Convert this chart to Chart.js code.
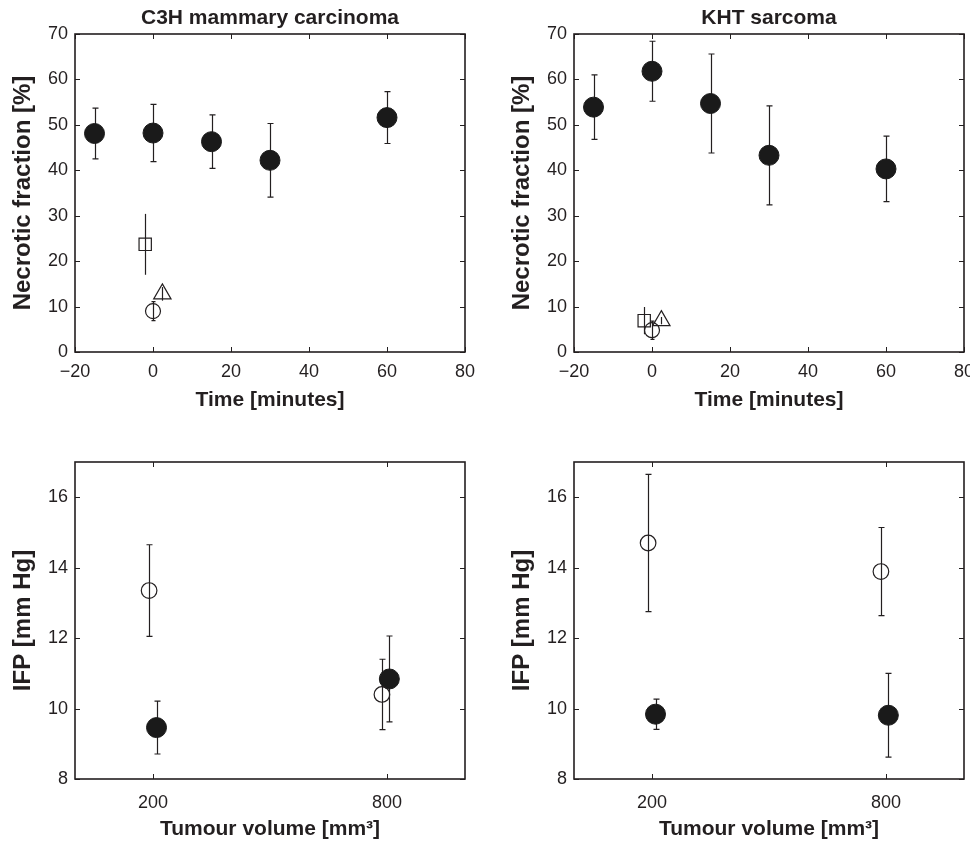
<!DOCTYPE html>
<html>
<head>
<meta charset="utf-8">
<title>Necrotic fraction and IFP</title>
<script src="https://cdn.jsdelivr.net/npm/chart.js@4.4.1/dist/chart.umd.min.js"></script>
<style>
  html, body { margin: 0; padding: 0; background: #fff; overflow: hidden; }
  body { width: 970px; height: 845px; position: relative; }
  canvas { position: absolute; }
</style>
</head>
<body>
<canvas id="chartC3HNecrosis" width="500" height="420" style="left:0px;top:0px"></canvas>
<canvas id="chartKHTNecrosis" width="500" height="420" style="left:485px;top:0px"></canvas>
<canvas id="chartC3HIfp" width="500" height="425" style="left:0px;top:420px"></canvas>
<canvas id="chartKHTIfp" width="500" height="425" style="left:485px;top:420px"></canvas>
<script>
// --- top row: necrotic fraction vs time ---
const timePoints = [-15, 0, 15, 30, 60];
const timeTicks = [-20, 0, 20, 40, 60, 80];
const necrosisTicks = [0, 10, 20, 30, 40, 50, 60, 70];

const c3hNecrosis = [48.1, 48.2, 46.3, 42.2, 51.6];
const c3hNecrosisErr = [5.6, 6.3, 5.9, 8.1, 5.7];
const khtNecrosis = [53.9, 61.8, 54.7, 43.3, 40.3];
const khtNecrosisErr = [7.1, 6.6, 10.9, 10.9, 7.2];

// reference groups near t = 0 (square, circle, triangle)
const refTimes = [-2, 0, 2.4];
const c3hRef = [23.7, 9.0, 12.8];
const c3hRefErr = [6.7, 2.1, 1.5];
const khtRef = [6.9, 4.8, 6.9];
const khtRefErr = [3.0, 2.0, 0.8];

// --- bottom row: IFP vs tumour volume ---
const volumeTicks = [200, 800];
const ifpTicks = [8, 10, 12, 14, 16];
const volumeOpen = [190, 787];
const volumeFilled = [209, 806];

const c3hIfpOpen = [13.35, 10.40];
const c3hIfpOpenErr = [1.3, 1.0];
const c3hIfpFilled = [9.46, 10.84];
const c3hIfpFilledErr = [0.75, 1.22];
const khtIfpOpen = [14.70, 13.89];
const khtIfpOpenErr = [1.95, 1.25];
const khtIfpFilled = [9.84, 9.81];
const khtIfpFilledErr = [0.43, 1.19];

const ink = '#231f20';
const family = "'Liberation Sans', Arial, Helvetica, sans-serif";
Chart.defaults.font.family = family;
Chart.defaults.color = ink;

function points(xs, ys) {
    return xs.map((x, i) => ({ x: x, y: ys[i] }));
}

function filledSet(xs, ys, errs) {
    return {
        data: points(xs, ys),
        errors: errs,
        capWidth: 3,
        pointStyle: 'circle',
        pointRadius: 10,
        pointBackgroundColor: '#1a1a1a',
        pointBorderColor: '#1a1a1a',
        pointBorderWidth: 1
    };
}

function openSet(x, y, err, style, radius, cap) {
    return {
        data: [{ x: x, y: y }],
        errors: [err],
        capWidth: cap,
        pointStyle: style,
        pointRadius: radius,
        pointBackgroundColor: 'rgba(0,0,0,0)',
        pointBorderColor: ink,
        pointBorderWidth: 1.2
    };
}

// error bars under the markers, MATLAB style box with inward ticks on top
const matlabAxes = {
    id: 'matlabAxes',
    beforeDatasetsDraw(chart) {
        const ctx = chart.ctx;
        const xs = chart.scales.x;
        const ys = chart.scales.y;
        ctx.save();
        ctx.strokeStyle = ink;
        ctx.lineWidth = 1.2;
        chart.data.datasets.forEach(ds => {
            const cap = ds.capWidth || 0;
            ds.data.forEach((p, i) => {
                const e = ds.errors[i];
                const x = Math.round(xs.getPixelForValue(p.x)) + 0.5;
                const y1 = ys.getPixelForValue(p.y + e);
                const y2 = ys.getPixelForValue(p.y - e);
                ctx.beginPath();
                ctx.moveTo(x, y1);
                ctx.lineTo(x, y2);
                if (cap) {
                    ctx.moveTo(x - cap, y1); ctx.lineTo(x + cap, y1);
                    ctx.moveTo(x - cap, y2); ctx.lineTo(x + cap, y2);
                }
                ctx.stroke();
            });
        });
        ctx.restore();
    },
    afterDatasetsDraw(chart) {
        const ctx = chart.ctx;
        const a = chart.chartArea;
        const tick = 5;
        ctx.save();
        ctx.strokeStyle = ink;
        ctx.lineWidth = 1;
        ctx.beginPath();
        chart.scales.x.ticks.forEach(t => {
            const x = Math.round(chart.scales.x.getPixelForValue(t.value)) + 0.5;
            ctx.moveTo(x, a.bottom); ctx.lineTo(x, a.bottom - tick);
            ctx.moveTo(x, a.top); ctx.lineTo(x, a.top + tick);
        });
        chart.scales.y.ticks.forEach(t => {
            const y = Math.round(chart.scales.y.getPixelForValue(t.value)) + 0.5;
            ctx.moveTo(a.left, y); ctx.lineTo(a.left + tick, y);
            ctx.moveTo(a.right, y); ctx.lineTo(a.right - tick, y);
        });
        ctx.stroke();
        ctx.lineWidth = 1.6;
        ctx.strokeRect(a.left, a.top, a.right - a.left, a.bottom - a.top);
        ctx.restore();
    }
};

function makePanel(id, p) {
    return new Chart(document.getElementById(id), {
        type: 'scatter',
        data: { datasets: p.datasets },
        options: {
            responsive: false,
            animation: false,
            events: [],
            layout: { padding: { left: p.padLeft, right: p.padRight, top: p.padTop, bottom: 0 } },
            plugins: {
                legend: { display: false },
                tooltip: { enabled: false },
                title: {
                    display: !!p.title,
                    text: p.title || '',
                    fullSize: false,
                    color: ink,
                    font: { size: 21, weight: 'bold' },
                    padding: { top: 5.7, bottom: 3.1 }
                }
            },
            scales: {
                x: {
                    type: 'linear',
                    min: p.xMin,
                    max: p.xMax,
                    grid: { display: false, drawTicks: false },
                    border: { display: false },
                    afterBuildTicks: s => { s.ticks = p.xTicks.map(v => ({ value: v })); },
                    afterFit: s => { s.height = p.xHeight; },
                    ticks: {
                        padding: p.xTickPad,
                        autoSkip: false,
                        maxRotation: 0,
                        font: { size: 18 },
                        callback: v => String(v).replace('-', '\u2212')
                    },
                    title: {
                        display: true,
                        text: p.xLabel,
                        font: { size: 21, weight: 'bold' },
                        padding: { top: 0, bottom: p.xTitlePad }
                    }
                },
                y: {
                    type: 'linear',
                    min: p.yMin,
                    max: p.yMax,
                    grid: { display: false, drawTicks: false },
                    border: { display: false },
                    afterBuildTicks: s => { s.ticks = p.yTicks.map(v => ({ value: v })); },
                    afterFit: s => { s.width = 75; },
                    ticks: {
                        padding: 7,
                        autoSkip: false,
                        font: { size: 18 }
                    },
                    title: {
                        display: true,
                        text: p.yLabel,
                        font: { size: 24, weight: 'bold' },
                        padding: { top: 9, bottom: 0 }
                    }
                }
            }
        },
        plugins: [matlabAxes]
    });
}

function necrosisSets(vals, errs, ref, refErr) {
    return [
        openSet(refTimes[0], ref[0], refErr[0], 'rect', 8.7, 0),
        openSet(refTimes[1], ref[1], refErr[1], 'circle', 7.5, 2),
        openSet(refTimes[2], ref[2], refErr[2], 'triangle', 10, 0),
        filledSet(timePoints, vals, errs)
    ];
}

function ifpSets(openVals, openErrs, filledVals, filledErrs) {
    const open = openSet(volumeOpen[0], openVals[0], openErrs[0], 'circle', 7.8, 3);
    open.data = points(volumeOpen, openVals);
    open.errors = openErrs;
    return [open, filledSet(volumeFilled, filledVals, filledErrs)];
}

const topRow = {
    xMin: -20, xMax: 80, xTicks: timeTicks,
    yMin: 0, yMax: 70, yTicks: necrosisTicks,
    xLabel: 'Time [minutes]', yLabel: 'Necrotic fraction [%]',
    padTop: 0, xHeight: 68, xTickPad: 9, xTitlePad: 6.7
};
const bottomRow = {
    xMin: 0, xMax: 1000, xTicks: volumeTicks,
    yMin: 8, yMax: 17, yTicks: ifpTicks,
    xLabel: 'Tumour volume [mm\u00B3]', yLabel: 'IFP [mm Hg]',
    padTop: 42, xHeight: 66, xTickPad: 13, xTitlePad: 3.4
};

makePanel('chartC3HNecrosis', Object.assign({}, topRow, {
    title: 'C3H mammary carcinoma', padLeft: 0, padRight: 35,
    datasets: necrosisSets(c3hNecrosis, c3hNecrosisErr, c3hRef, c3hRefErr)
}));
makePanel('chartKHTNecrosis', Object.assign({}, topRow, {
    title: 'KHT sarcoma', padLeft: 14, padRight: 21,
    datasets: necrosisSets(khtNecrosis, khtNecrosisErr, khtRef, khtRefErr)
}));
makePanel('chartC3HIfp', Object.assign({}, bottomRow, {
    padLeft: 0, padRight: 35,
    datasets: ifpSets(c3hIfpOpen, c3hIfpOpenErr, c3hIfpFilled, c3hIfpFilledErr)
}));
makePanel('chartKHTIfp', Object.assign({}, bottomRow, {
    padLeft: 14, padRight: 21,
    datasets: ifpSets(khtIfpOpen, khtIfpOpenErr, khtIfpFilled, khtIfpFilledErr)
}));
</script>
</body>
</html>
